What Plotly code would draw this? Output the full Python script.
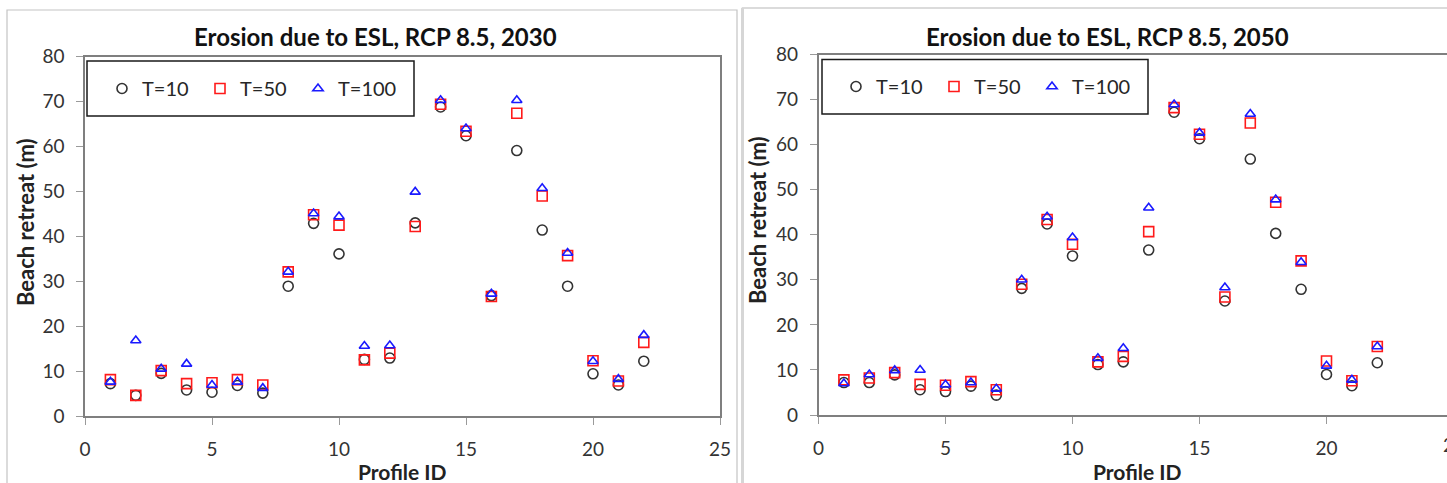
import plotly.graph_objects as go

W, H = 1447, 483

profile_id = list(range(1, 23))

# 2030 (left panel)
t10_2030 = [7.2, 4.6, 9.5, 5.8, 5.3, 6.8, 5.1, 28.9, 42.9, 36.1, 12.6, 12.9, 43.0, 68.8, 62.4, 26.8, 59.1, 41.4, 28.9, 9.4, 6.9, 12.2]
t50_2030 = [8.1, 4.6, 10.1, 7.2, 7.4, 8.1, 6.9, 32.1, 44.8, 42.5, 12.5, 14.0, 42.2, 69.4, 63.4, 26.6, 67.4, 49.0, 35.7, 12.3, 7.8, 16.4]
t100_2030 = [7.6, 16.8, 10.5, 11.6, 6.9, 7.6, 6.2, 32.1, 45.1, 44.4, 15.6, 15.7, 49.9, 70.3, 64.0, 27.2, 70.3, 50.7, 36.3, 12.2, 8.2, 18.0]

# 2050 (right panel)
t10_2050 = [7.2, 7.2, 8.9, 5.6, 5.2, 6.4, 4.4, 28.1, 42.4, 35.3, 11.2, 11.8, 36.6, 67.2, 61.3, 25.3, 56.8, 40.3, 27.9, 9.0, 6.5, 11.6]
t50_2050 = [7.8, 8.2, 9.4, 6.8, 6.6, 7.4, 5.6, 29.0, 43.4, 37.9, 11.8, 13.0, 40.7, 68.2, 62.3, 26.2, 64.8, 47.2, 34.2, 12.0, 7.6, 15.2]
t100_2050 = [7.0, 9.0, 9.9, 10.0, 6.7, 7.2, 5.8, 30.0, 44.0, 39.4, 12.6, 14.8, 46.0, 68.9, 62.6, 28.3, 66.8, 47.8, 33.9, 10.9, 7.8, 15.2]

titles = ["Erosion due to ESL, RCP 8.5, 2030", "Erosion due to ESL, RCP 8.5, 2050"]
series_names = ["T=10", "T=50", "T=100"]
x_title = "Profile ID"
y_title = "Beach retreat (m)"

def px(x):
    return x / W

def py(y):
    return 1 - y / H

styles = [
    dict(symbol="circle-open", color="#333333", size=10),
    dict(symbol="square-open", color="#ff1a1a", size=10),
    dict(symbol="triangle-up-open", color="#1a1aff", size=9),
]

fig = go.Figure()
panels = [
    ([t10_2030, t50_2030, t100_2030], "x", "y", "legend"),
    ([t10_2050, t50_2050, t100_2050], "x2", "y2", "legend2"),
]
for vals, xa, ya, lg in panels:
    for name, v, st in zip(series_names, vals, styles):
        fig.add_trace(go.Scatter(
            x=profile_id, y=v, mode="markers", name=name,
            xaxis=xa, yaxis=ya, legend=lg,
            marker=dict(symbol=st["symbol"], size=st["size"], color=st["color"],
                        line=dict(width=1.6, color=st["color"])),
        ))

axis_common = dict(
    showgrid=False, zeroline=False, showline=True, linecolor="#7f7f7f", linewidth=1.5,
    ticks="outside", ticklen=7, tickcolor="#9a9a9a", tickwidth=1,
    tickfont=dict(family="Lato", size=19, color="#333333"),
    ticklabelstandoff=8, automargin=False,
)

left_x0, left_x1 = 85, 720
right_x0 = 818.5
x_unit = (left_x1 - left_x0) / 25.0

fig.update_layout(
    template="none",
    width=W, height=H,
    margin=dict(l=0, r=0, t=0, b=0, pad=0, autoexpand=False),
    paper_bgcolor="white", plot_bgcolor="white",
    font=dict(family="Lato", color="#262626"),
    xaxis=dict(domain=[px(left_x0), px(left_x1)], range=[0, 25], dtick=5, anchor="y", mirror=True, **axis_common),
    yaxis=dict(domain=[py(416), py(56.7)], range=[0, 80], dtick=10, anchor="x", mirror=True, **axis_common),
    xaxis2=dict(domain=[px(right_x0), 1.0], range=[0, (W - right_x0) / x_unit], dtick=5, anchor="y2", mirror=True, **axis_common),
    yaxis2=dict(domain=[py(415), py(54.5)], range=[0, 80], dtick=10, anchor="x2", mirror=False, **axis_common),
    legend=dict(orientation="h", x=px(102), y=py(88.5), xanchor="left", yanchor="middle",
                entrywidth=53, font=dict(family="Lato", size=20, color="#262626"),
                bgcolor="rgba(0,0,0,0)", borderwidth=0),
    legend2=dict(orientation="h", x=px(836), y=py(86.5), xanchor="left", yanchor="middle",
                 entrywidth=53, font=dict(family="Lato", size=20, color="#262626"),
                 bgcolor="rgba(0,0,0,0)", borderwidth=0),
    showlegend=True,
)

shapes = [
    # chart-area frames
    dict(type="rect", xref="paper", yref="paper", x0=px(7), x1=px(737), y0=py(495), y1=py(10),
         line=dict(color="#c4c4c4", width=1.2), layer="below"),
    dict(type="rect", xref="paper", yref="paper", x0=px(742.5), x1=px(1470), y0=py(495), y1=py(8),
         line=dict(color="#cfcfcf", width=1.5), layer="below"),
    dict(type="line", xref="paper", yref="paper", x0=px(742.5), x1=px(742.5), y0=py(495), y1=py(8),
         line=dict(color="#d6d6d6", width=3), layer="below"),
    # legend boxes
    dict(type="rect", xref="paper", yref="paper", x0=px(87), x1=px(414), y0=py(116), y1=py(61),
         line=dict(color="#1a1a1a", width=1.5)),
    dict(type="rect", xref="paper", yref="paper", x0=px(822), x1=px(1148), y0=py(114), y1=py(59.5),
         line=dict(color="#1a1a1a", width=1.5)),
]
fig.update_layout(shapes=shapes)

annotations = [
    dict(text=titles[0], x=px(375), y=py(37), xref="paper", yref="paper", showarrow=False,
         xanchor="center", yanchor="middle", font=dict(family="Lato", size=24, color="#111111", weight="bold")),
    dict(text=titles[1], x=px(1107.5), y=py(36), xref="paper", yref="paper", showarrow=False,
         xanchor="center", yanchor="middle", font=dict(family="Lato", size=24, color="#111111", weight="bold")),
    dict(text=x_title, x=px(402.5), y=py(471), xref="paper", yref="paper", showarrow=False,
         xanchor="center", yanchor="middle", font=dict(family="Lato", size=21, color="#222222", weight="bold")),
    dict(text=x_title, x=px(1137.5), y=py(471), xref="paper", yref="paper", showarrow=False,
         xanchor="center", yanchor="middle", font=dict(family="Lato", size=21, color="#222222", weight="bold")),
    dict(text=y_title, x=px(25), y=py(222), xref="paper", yref="paper", showarrow=False, textangle=-90,
         xanchor="center", yanchor="middle", font=dict(family="Lato", size=22, color="#222222", weight="bold")),
    dict(text=y_title, x=px(757), y=py(220), xref="paper", yref="paper", showarrow=False, textangle=-90,
         xanchor="center", yanchor="middle", font=dict(family="Lato", size=22, color="#222222", weight="bold")),
    # partially visible tick label "25" at the cut right edge (as in the reference)
    dict(text="25", x=px(right_x0 + 25 * x_unit), y=py(444), xref="paper", yref="paper", showarrow=False,
         xanchor="center", yanchor="middle", font=dict(family="Lato", size=19, color="#333333")),
]
fig.update_layout(annotations=annotations)

fig.write_html(
    "out.html",
    config={"displayModeBar": False},
    post_script="document.body.style.margin='0px';document.body.style.overflow='hidden';",
)
